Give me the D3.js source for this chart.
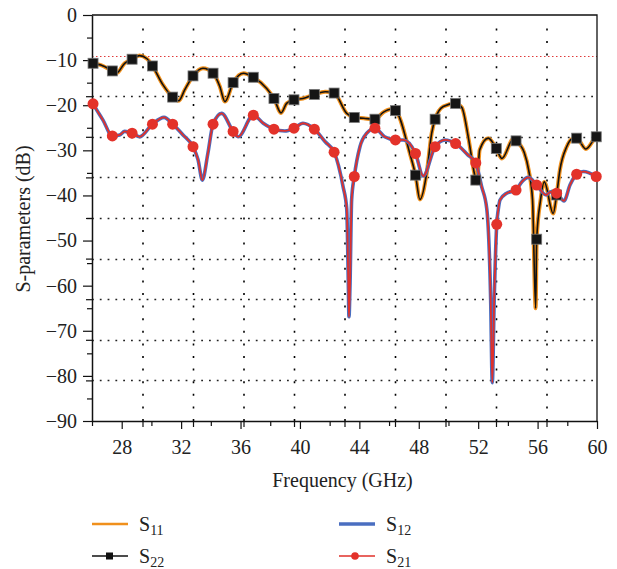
<!DOCTYPE html>
<html>
<head>
<meta charset="utf-8">
<script src="https://cdn.jsdelivr.net/npm/d3@7"></script>
<style>
  body { margin: 0; background: #fff; }
  text { font-family: "Liberation Serif", "DejaVu Serif", serif; fill: #222; }
</style>
</head>
<body>
<div id="chart"></div>
<script>
// Frequency (GHz) / dB points
const s22Curve = [
  [26.0, -10.3], [26.6, -11.1], [27.64, -12.9], [28.2, -10.7], [29.2, -9.0], [29.7, -9.7],
  [30.78, -15.5], [31.84, -19.0], [32.24, -16.6], [33.47, -11.8], [34.6, -15.8], [34.95, -19.2],
  [36.2, -12.9], [37.76, -16.3], [38.73, -21.7], [39.1, -19.6], [40.2, -18.5], [41.7, -17.0],
  [43.15, -21.8], [44.3, -22.9], [45.6, -21.6], [46.1, -20.9], [47.4, -30.7], [48.08, -40.9],
  [48.53, -35.1], [48.87, -26.2], [49.65, -20.3], [50.9, -20.5], [51.33, -27.0], [51.7, -34.4],
  [51.92, -37.3], [52.1, -29.9], [52.68, -27.3], [53.6, -31.8], [54.37, -27.5], [55.1, -30.5],
  [55.4, -34.4], [55.66, -41.0], [55.87, -65.0], [56.2, -41.0], [56.45, -37.0], [57.05, -44.0],
  [57.5, -34.4], [57.96, -29.2], [58.3, -27.5], [59.25, -29.7], [60.0, -26.9]
];
const s22Markers = [
  [26.07, -10.7], [27.37, -12.4], [28.7, -9.8], [30.07, -11.3], [31.43, -18.2], [32.8, -13.5],
  [34.15, -12.9], [35.5, -15.0], [36.86, -13.8], [38.25, -18.5], [39.6, -18.8], [40.97, -17.6],
  [42.3, -17.3], [43.66, -22.7], [45.05, -23.1], [46.43, -21.2], [47.78, -35.5], [49.1, -23.1],
  [50.48, -19.6], [51.84, -36.6], [53.22, -29.6], [54.55, -27.9], [55.94, -49.7], [57.28, -39.9],
  [58.63, -27.3], [59.95, -27.0]
];
const s21Curve = [
  [26.0, -19.3], [26.74, -23.3], [27.86, -26.6], [28.2, -25.8], [29.2, -27.0], [30.85, -22.7],
  [32.13, -26.6], [33.14, -32.1], [33.43, -36.6], [33.8, -30.7], [34.73, -21.8], [35.85, -27.0],
  [37.53, -24.0], [38.99, -25.7], [40.2, -24.0], [41.7, -28.1], [42.9, -38.0], [43.15, -43.0],
  [43.26, -60.0], [43.3, -66.9], [43.37, -60.0], [43.48, -41.0], [44.04, -29.2], [44.5, -26.2],
  [45.7, -27.0], [46.96, -27.7], [48.3, -35.7], [49.77, -27.7], [51.3, -31.0], [52.23, -38.0],
  [52.58, -43.0], [52.84, -63.0], [52.95, -81.5], [53.08, -63.0], [53.35, -43.2], [53.47, -41.0],
  [53.92, -39.5], [54.93, -37.0], [55.38, -36.0], [56.57, -39.9], [56.88, -39.2], [57.78, -41.2],
  [58.18, -37.7], [59.08, -34.7], [60.0, -35.9]
];
const s21Markers = [
  [26.07, -19.7], [27.37, -26.8], [28.7, -26.2], [30.07, -24.2], [31.43, -24.2], [32.8, -29.2],
  [34.15, -24.2], [35.5, -25.8], [36.86, -22.2], [38.25, -25.3], [39.6, -25.1], [40.97, -25.3],
  [42.3, -30.4], [43.66, -35.8], [45.05, -25.1], [46.43, -27.7], [47.78, -30.7], [49.1, -29.2],
  [50.48, -28.5], [51.84, -32.8], [53.25, -46.4], [54.55, -38.8], [55.94, -37.7], [57.28, -39.5],
  [58.63, -35.3], [59.95, -35.8]
];
// S11 lies on S22 and S12 lies on S21 in the figure
const s11Curve = s22Curve.concat(s22Markers);
const s12Curve = s21Curve.concat(s21Markers);

const xTicks = [28, 32, 36, 40, 44, 48, 52, 56, 60];
const xMinorTicks = [26, 30, 34, 38, 42, 46, 50, 54, 58];
const yTicks = [0, -10, -20, -30, -40, -50, -60, -70, -80, -90];
const yMinorTicks = [-5, -15, -25, -35, -45, -55, -65, -75, -85];
const gridX = [29.4, 32.8, 36.2, 39.6, 43.0, 46.4, 49.8, 53.2, 56.6];
const gridY = [-18, -27, -36, -45, -54, -63, -72, -81];
const refLevel = -9;

const seriesNames = ["11", "22", "12", "21"];

const margin = { top: 15, right: 20, bottom: 148, left: 92 },
      width = 617 - margin.left - margin.right,
      height = 569 - margin.top - margin.bottom;

const root = d3.select("#chart").append("svg")
    .attr("width", 617)
    .attr("height", 569);

const svg = root.append("g")
    .attr("transform", `translate(${margin.left},${margin.top})`);

const x = d3.scaleLinear().domain([26, 60]).range([0, width]);
const y = d3.scaleLinear().domain([-90, 0]).range([height, 0]);

// dotted grid, vertical lines drawn through an axis with full-height ticks
const gridXAxis = svg.append("g")
    .attr("class", "grid-x")
    .attr("transform", `translate(0,${height})`)
    .call(d3.axisBottom(x).tickValues(gridX).tickSize(-height + 4).tickFormat(""));
gridXAxis.select(".domain").remove();
gridXAxis.selectAll("line")
    .attr("stroke", "#000").attr("stroke-width", 1.6)
    .attr("stroke-dasharray", "2,10.6");

svg.append("g").selectAll("line")
    .data(gridY)
    .enter().append("line")
    .attr("x1", 0).attr("x2", width)
    .attr("y1", d => Math.round(y(d)) + 0.5).attr("y2", d => Math.round(y(d)) + 0.5)
    .attr("stroke", "#222").attr("stroke-width", 1.3)
    .attr("stroke-dasharray", "1.8,6");

svg.append("line")
    .attr("x1", 0).attr("x2", width)
    .attr("y1", Math.round(y(refLevel)) + 0.5).attr("y2", Math.round(y(refLevel)) + 0.5)
    .attr("stroke", "#e03a3a").attr("stroke-width", 1.2)
    .attr("stroke-dasharray", "1.5,2.5");

// frame top and right
svg.append("path")
    .attr("d", `M0,0H${width}V${height}`)
    .attr("fill", "none").attr("stroke", "#111").attr("stroke-width", 1.3);

// axes
const fontSize = "20px";

const axes = svg.append("g").attr("class", "axes");

axes.append("g")
    .call(d3.axisLeft(y).tickValues(yTicks).tickSize(9).tickSizeOuter(0).tickPadding(6));
axes.append("g")
    .call(d3.axisLeft(y).tickValues(yMinorTicks).tickSize(5).tickFormat(""))
    .select(".domain").remove();
axes.append("g")
    .call(d3.axisLeft(y).tickValues(gridY).tickSize(6).tickFormat(""))
    .select(".domain").remove();

axes.append("g")
    .attr("transform", `translate(0,${height})`)
    .call(d3.axisBottom(x).tickValues(xTicks).tickSize(8).tickSizeOuter(0).tickPadding(11));
axes.append("g")
    .attr("transform", `translate(0,${height})`)
    .call(d3.axisBottom(x).tickValues(xMinorTicks).tickSize(5).tickFormat(""))
    .select(".domain").remove();
axes.append("g")
    .attr("transform", `translate(0,${height})`)
    .call(d3.axisBottom(x).tickValues(gridX).tickSize(6).tickFormat(""))
    .select(".domain").remove();

axes.selectAll(".tick line").attr("stroke", "#111").attr("stroke-width", 1.2);
axes.selectAll(".domain").attr("stroke", "#111").attr("stroke-width", 1.5);
axes.selectAll(".tick text")
    .attr("font-size", fontSize)
    .attr("font-family", "Liberation Serif")
    .attr("fill", "#222");

// axis titles
svg.append("text")
    .attr("x", width / 2 - 2)
    .attr("y", height + 66)
    .attr("text-anchor", "middle")
    .attr("font-size", fontSize)
    .text("Frequency (GHz)");

root.append("text")
    .attr("transform", `translate(30,${margin.top + height / 2 + 1}) rotate(-90)`)
    .attr("text-anchor", "middle")
    .attr("font-size", fontSize)
    .text("S-parameters (dB)");

// curves
const byFreq = (a, b) => a[0] - b[0];
const line = d3.line()
    .x(d => x(d[0]))
    .y(d => y(d[1]))
    .curve(d3.curveMonotoneX);

svg.append("path")
    .datum(s11Curve.slice().sort(byFreq))
    .attr("d", line)
    .attr("fill", "none").attr("stroke", "#f0901c").attr("stroke-width", 4);

svg.append("path")
    .datum(s22Curve.concat(s22Markers).sort(byFreq))
    .attr("d", line)
    .attr("fill", "none").attr("stroke", "#111").attr("stroke-width", 1.6);

svg.append("path")
    .datum(s12Curve.slice().sort(byFreq))
    .attr("d", line)
    .attr("fill", "none").attr("stroke", "#4a6ec0").attr("stroke-width", 3.6);

svg.append("path")
    .datum(s21Curve.concat(s21Markers).sort(byFreq))
    .attr("d", line)
    .attr("fill", "none").attr("stroke", "#e0302a").attr("stroke-width", 1.8);

// markers
svg.selectAll(".sq")
    .data(s22Markers)
    .enter().append("rect")
    .attr("class", "sq")
    .attr("x", d => x(d[0]) - 5)
    .attr("y", d => y(d[1]) - 5)
    .attr("width", 10).attr("height", 10)
    .attr("fill", "#151515")
    .attr("stroke", "#777").attr("stroke-width", 0.8);

svg.selectAll(".dot")
    .data(s21Markers)
    .enter().append("circle")
    .attr("class", "dot")
    .attr("cx", d => x(d[0]))
    .attr("cy", d => y(d[1]))
    .attr("r", 5.5)
    .attr("fill", "#e3322a");

// legend
const legendPos = [[92, 524], [92, 556], [339, 524], [339, 556]];
const legendStyle = [
  { color: "#f0901c", w: 2.5 },
  { color: "#111", w: 1.3, marker: "square" },
  { color: "#4a6ec0", w: 3.5 },
  { color: "#e0302a", w: 1.3, marker: "circle" }
];

seriesNames.forEach((name, i) => {
  const g = root.append("g").attr("transform", `translate(${legendPos[i][0]},${legendPos[i][1]})`);
  const st = legendStyle[i];
  g.append("line")
    .attr("x1", 0).attr("x2", 36)
    .attr("stroke", st.color).attr("stroke-width", st.w);
  if (st.marker === "square") {
    g.append("rect").attr("x", 14).attr("y", -3.5).attr("width", 7).attr("height", 7).attr("fill", "#111");
  } else if (st.marker === "circle") {
    g.append("circle").attr("cx", 16).attr("r", 3.8).attr("fill", "#e3322a");
  }
  const t = g.append("text")
    .attr("x", 47)
    .attr("y", 6.5)
    .attr("font-size", fontSize);
  t.append("tspan").text("S");
  t.append("tspan").attr("font-size", "14px").attr("dy", 4).text(name);
});
</script>
</body>
</html>
